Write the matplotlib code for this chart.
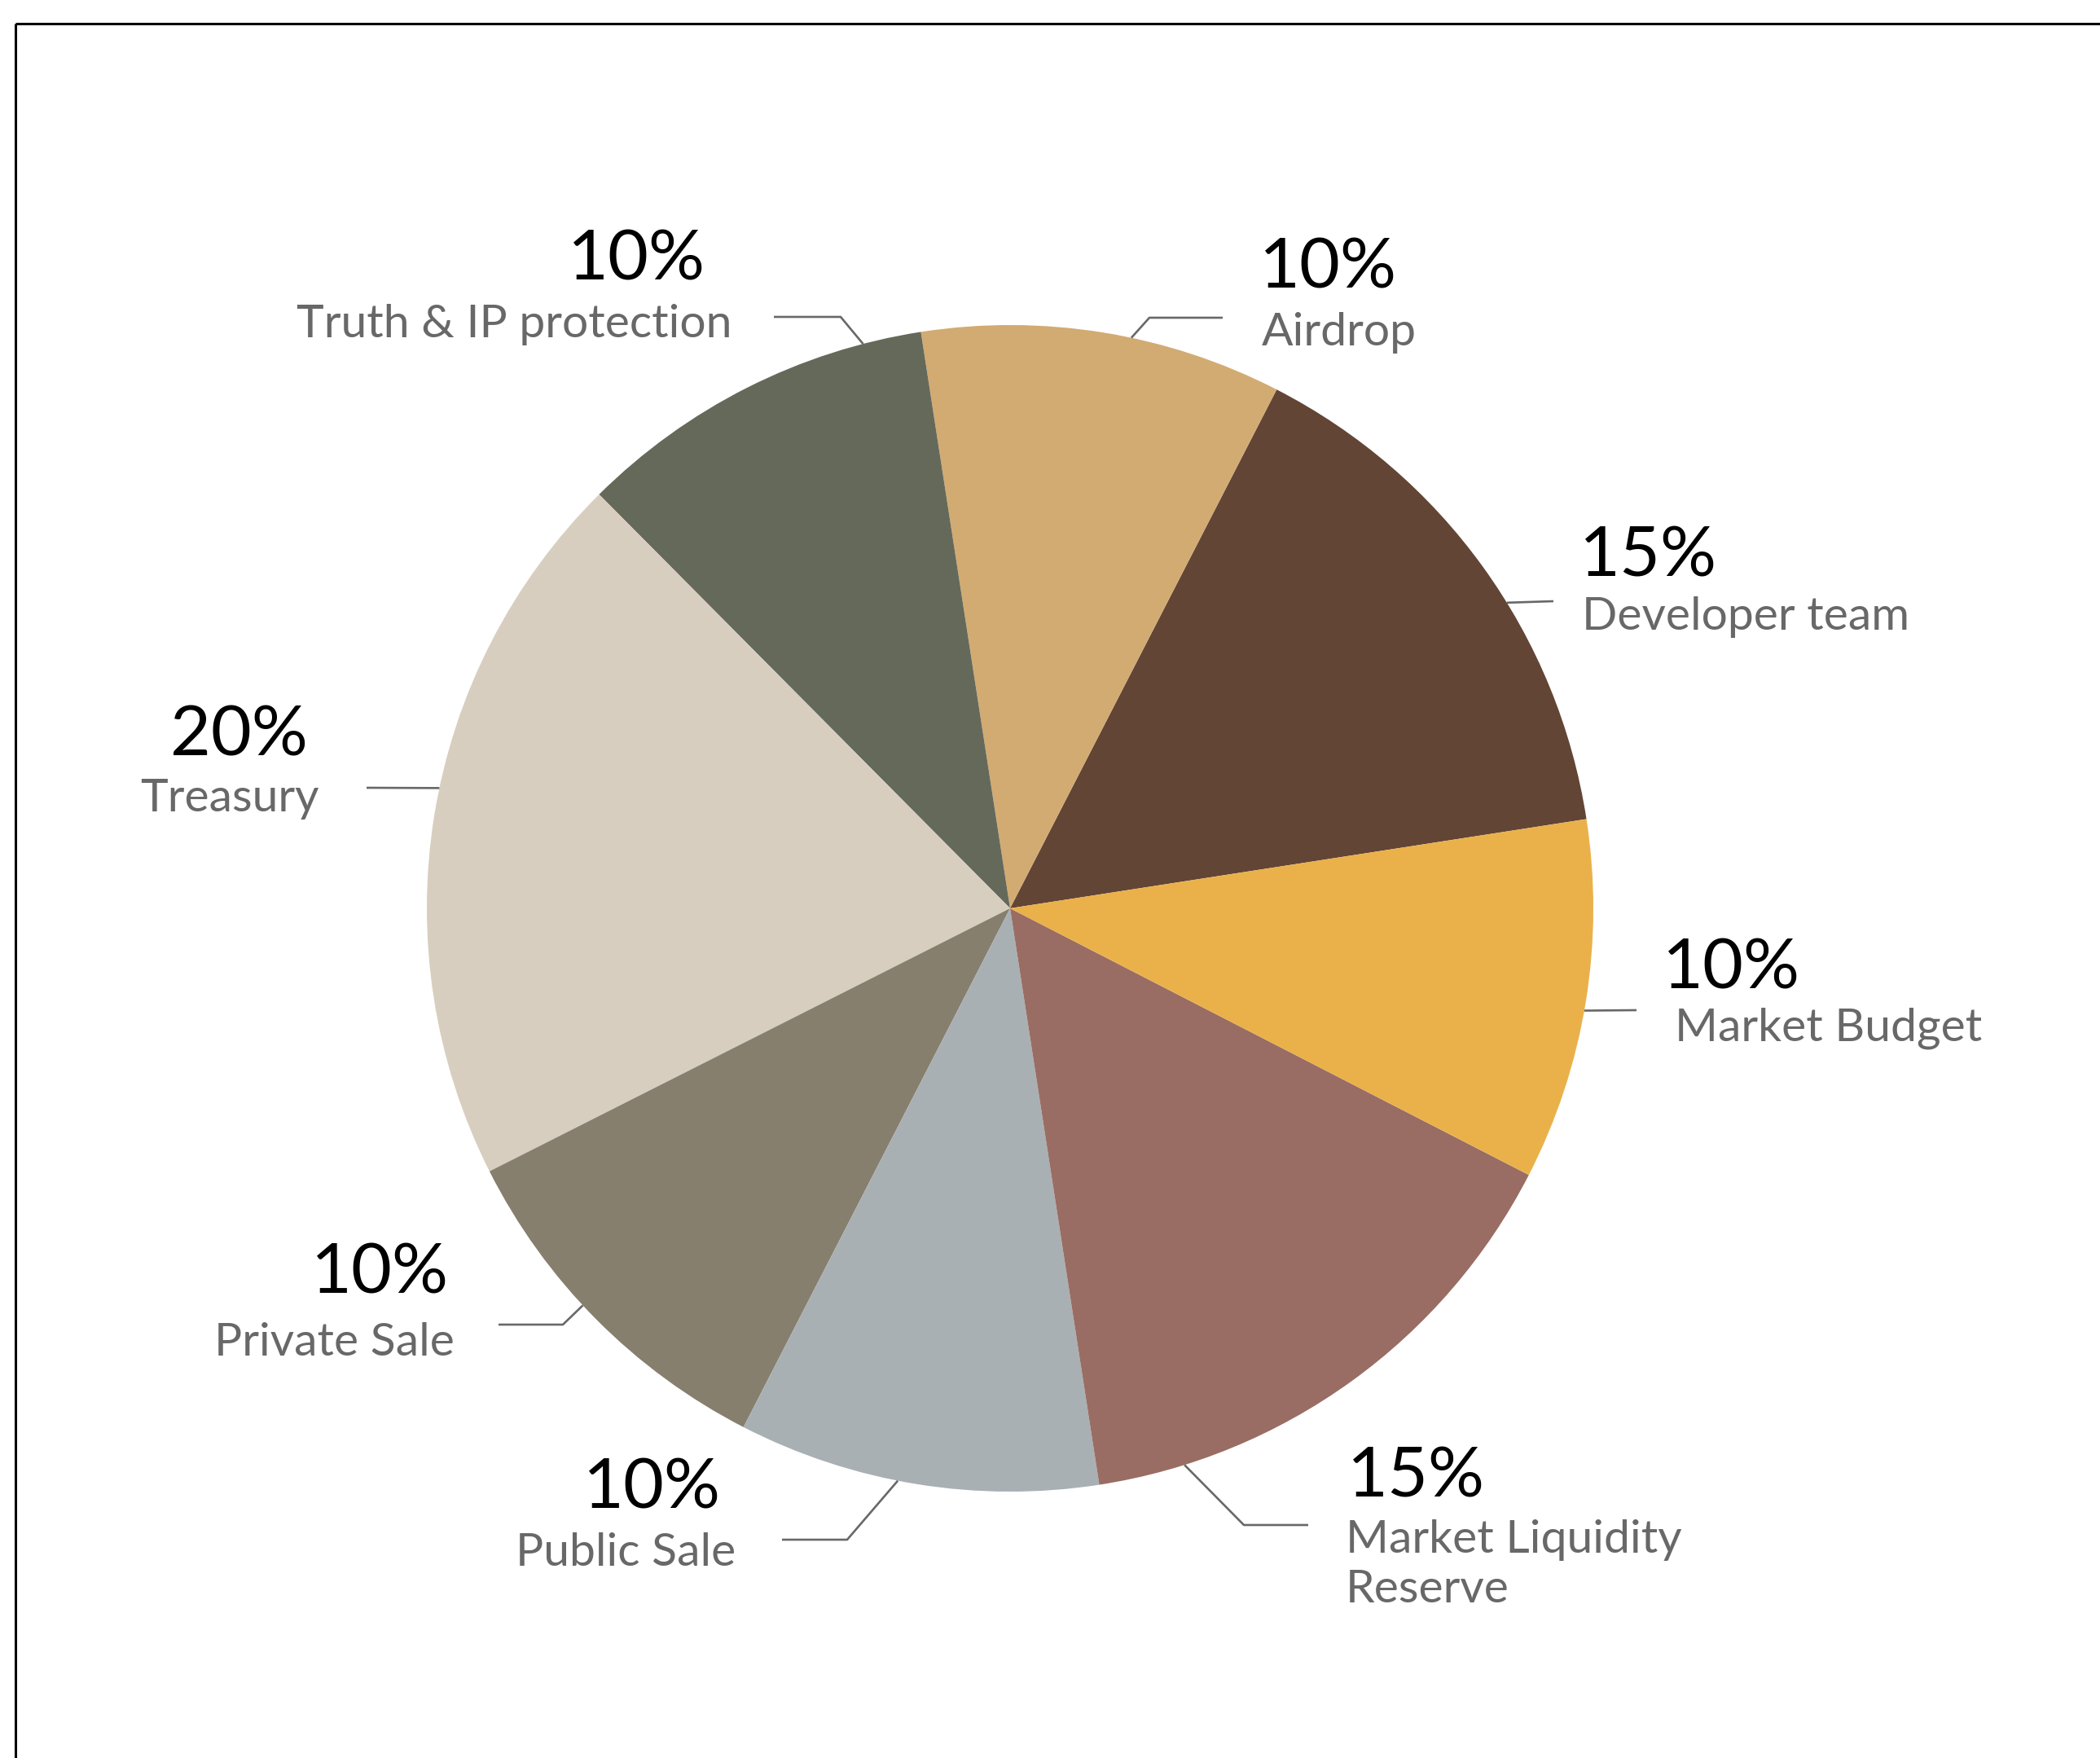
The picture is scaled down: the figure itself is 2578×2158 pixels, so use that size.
import numpy as np
import matplotlib
matplotlib.use("Agg")
import matplotlib.pyplot as plt

plt.rcParams["font.family"] = ["Lato", "DejaVu Sans"]

# data, counter-clockwise from the Developer slice
labels = ["Developer team", "Airdrop", "Truth & IP protection", "Treasury",
          "Private Sale", "Public Sale", "Market Liquidity\nReserve", "Market Budget"]
shares = [15, 10, 10, 20, 10, 10, 15, 10]
colors = ["#624535", "#D2AB72", "#65695A", "#D8CEBF",
          "#877F6E", "#A9B0B3", "#996D63", "#EAB14B"]

W, H = 2578, 2158
cx, cy, R = 1240, 1115, 716

# layout: (edge angle of leader, leader bend points, text x, pct baseline, label baseline, align)
layout = [
    (31.6, [(1907, 738)], 1939, 707, 773, "left"),
    (78.0, [(1411, 390), (1501, 390)], 1546, 354, 424, "left"),
    (104.6, [(1032, 389), (950, 389)], (866, 899), 343, 414, "right"),
    (168.1, [(450, 967)], (378, 392), 928, 996, "right"),
    (222.9, [(691, 1626), (612, 1626)], (551, 558), 1587, 1664, "right"),
    (258.9, [(1040, 1890), (960, 1890)], (885, 903), 1851, 1922, "right"),
    (-72.6, [(1527, 1872), (1606, 1872)], (1654, 1652), 1838, 1906, "left"),
    (-10.1, [(2009, 1240)], (2041, 2056), 1213, 1278, "left"),
]

fig = plt.figure(figsize=(W / 100, H / 100), dpi=100)
ax = fig.add_axes([0, 0, 1, 1])
ax.pie(shares, colors=colors, startangle=-8.8, counterclock=False,
       center=(cx, cy), radius=R, wedgeprops=dict(linewidth=0))
ax.set_aspect("auto")
ax.set_xlim(0, W)
ax.set_ylim(H, 0)
ax.axis("off")

# frame (top and left edges only)
ax.plot([19, W], [29, 29], color="black", lw=2.2, solid_capstyle="butt")
ax.plot([19, 19], [29, H], color="black", lw=2.2, solid_capstyle="butt")

grey = "#686868"
for lab, sh, (ang, pts, tx, pb, lb, ha) in zip(labels, shares, layout):
    a = np.deg2rad(ang)
    # angles are visual (y up), axis is inverted
    ex, ey = cx + R * np.cos(a), cy - R * np.sin(a)
    xs = [ex] + [p[0] for p in pts]
    ys = [ey] + [p[1] for p in pts]
    ax.plot(xs, ys, color=grey, lw=1.9, solid_capstyle="butt")
    if isinstance(tx, tuple):
        px, lx = tx
    else:
        px, lx = tx, tx + 3
    ax.text(px, pb, f"{sh}%", fontsize=62, color="black", ha=ha, va="baseline")
    for i, line in enumerate(lab.split("\n")):
        ax.text(lx, lb + i * 61, line, fontsize=41, color=grey, ha=ha, va="baseline")

fig.savefig("out.png", dpi=100)
